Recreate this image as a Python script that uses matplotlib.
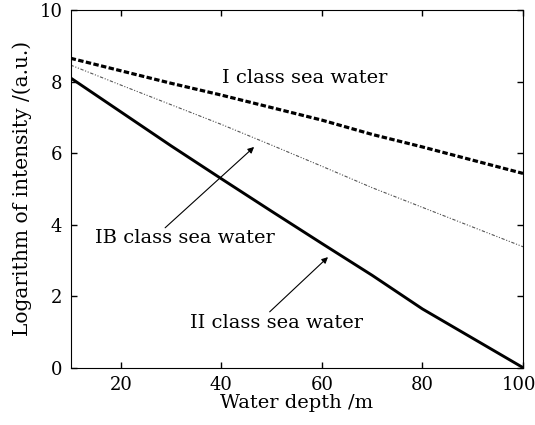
import matplotlib
matplotlib.use("Agg")
import matplotlib.pyplot as plt
from matplotlib.transforms import ScaledTranslation

# Water depth (m)
depth = [10, 20, 30, 40, 50, 60, 70, 80, 90, 100]

# Logarithm of received intensity for three sea-water classes
class_I = [8.65, 8.30, 7.95, 7.62, 7.27, 6.92, 6.52, 6.17, 5.80, 5.43]
class_IB = [8.46, 7.90, 7.35, 6.80, 6.22, 5.63, 5.03, 4.48, 3.93, 3.38]
class_II = [8.10, 7.15, 6.20, 5.28, 4.37, 3.47, 2.58, 1.64, 0.82, 0.00]

x_ticks = [20, 40, 60, 80, 100]
y_ticks = [0, 2, 4, 6, 8, 10]

plt.rcParams["font.family"] = ["DejaVu Serif"]
plt.rcParams["mathtext.fontset"] = "dejavuserif"

fig = plt.figure(figsize=(5.35, 4.25), dpi=100)
ax = fig.add_axes([0.132, 0.135, 0.8456, 0.8415])

ax.plot(depth, class_I, color="black", lw=2.3, linestyle=(0, (1.7, 0.75)))
ax.plot(depth, class_IB, color="#555555", lw=0.8, linestyle=(0, (3, 1.5, 1, 1.5, 1, 1.5)))
ax.plot(depth, class_II, color="black", lw=2.1, solid_capstyle="butt")

ax.set_xlim(10, 100)
ax.set_ylim(0, 10)
ax.set_xticks(x_ticks)
ax.set_yticks(y_ticks)
ax.tick_params(direction="in", length=4, width=1.0, top=True, right=True,
               labelsize=13, pad=6)
for s in ax.spines.values():
    s.set_linewidth(0.8)

# keep the rightmost depth label inside the canvas
last = ax.get_xticklabels()[-1]
last.set_transform(last.get_transform() + ScaledTranslation(-4 / 100, 0, fig.dpi_scale_trans))

ax.set_xlabel("Water depth /m", fontsize=14, labelpad=0)
ax.set_ylabel("Logarithm of intensity /(a.u.)", fontsize=14.5, labelpad=5)

ax.text(56.6, 8.10, "I class sea water", fontsize=14, ha="center", va="center")

arrow = dict(arrowstyle="-|>", lw=0.8, color="black", mutation_scale=9,
             shrinkA=0, shrinkB=0)
ax.annotate("", xy=(46.5, 6.17), xytext=(28.8, 3.91), arrowprops=arrow)
ax.text(32.7, 3.63, "IB class sea water", fontsize=14, ha="center", va="center")

ax.annotate("", xy=(61.2, 3.09), xytext=(49.6, 1.56), arrowprops=arrow)
ax.text(51.0, 1.25, "II class sea water", fontsize=14, ha="center", va="center")

fig.savefig("out.png", dpi=100)
